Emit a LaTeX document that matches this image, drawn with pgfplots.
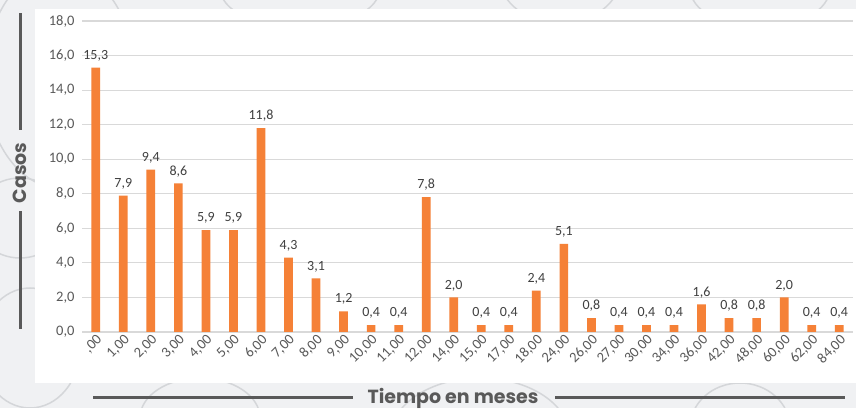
\documentclass[border=0pt]{standalone}
\usepackage{fontspec}
\setmainfont{Carlito}
\newfontfamily\poppins{Poppins}
\usepackage{pgfplots}
\pgfplotsset{compat=1.18}

\definecolor{barorange}{HTML}{F58137}
\definecolor{txtgray}{HTML}{595959}
\definecolor{gridgray}{HTML}{D9D9D9}
\definecolor{bggray}{HTML}{F0F1F3}
\definecolor{decogray}{HTML}{D4D6D9}

\begin{document}
\begin{tikzpicture}
% background with faint decorative curves
\fill[bggray] (0pt,0pt) rectangle (856pt,408pt);
\begin{scope}
  \clip (0pt,0pt) rectangle (856pt,408pt);
  \draw[decogray, line width=1.5pt] (60pt,330pt) ellipse (75pt and 110pt);
  \draw[decogray, line width=1.5pt] (20pt,190pt) ellipse (45pt and 40pt);
  \draw[decogray, line width=1.5pt] (300pt,420pt) ellipse (80pt and 40pt);
  \draw[decogray, line width=1.5pt] (560pt,430pt) ellipse (60pt and 45pt);
  \draw[decogray, line width=1.5pt] (760pt,420pt) ellipse (70pt and 40pt);
  \draw[decogray, line width=1.5pt] (200pt,-10pt) ellipse (60pt and 40pt);
  \draw[decogray, line width=1.5pt] (480pt,-30pt) ellipse (90pt and 60pt);
  \draw[decogray, line width=1.5pt] (740pt,-20pt) ellipse (50pt and 45pt);
  \draw[decogray, line width=1.5pt] (30pt,60pt) ellipse (50pt and 60pt);
\end{scope}
% white chart panel
\fill[white] (35pt,25pt) rectangle (856pt,399pt);

\begin{axis}[
  at={(82pt,76pt)}, anchor=south west,
  scale only axis, width=771pt, height=311pt,
  xmin=-0.5, xmax=27.5, ymin=0, ymax=18,
  ybar, bar width=8.7pt,
  axis line style={draw=none},
  major tick length=0pt,
  ymajorgrids, grid style={gridgray, line width=1.2pt},
  ytick={0,2,...,18},
  xtick={0,...,27},
  xticklabels={{,00},{1,00},{2,00},{3,00},{4,00},{5,00},{6,00},{7,00},{8,00},{9,00},{10,00},{11,00},{12,00},{14,00},{15,00},{17,00},{18,00},{24,00},{26,00},{27,00},{30,00},{34,00},{36,00},{42,00},{48,00},{60,00},{62,00},{84,00}},
  tick label style={font=\fontsize{14.5}{16}\selectfont, text=txtgray},
  x tick label style={rotate=45, anchor=north east, inner sep=1pt},
  y tick label style={xshift=-4pt},
  /pgf/number format/fixed,
  /pgf/number format/fixed zerofill,
  /pgf/number format/precision=1,
  /pgf/number format/use comma,
  /pgf/number format/assume math mode=true,
  nodes near coords,
  nodes near coords style={font=\fontsize{14}{16}\selectfont, text=black!75, yshift=3pt},
]
\addplot[fill=barorange, draw=none] coordinates {
  (0,15.3) (1,7.9) (2,9.4) (3,8.6) (4,5.9) (5,5.9) (6,11.8) (7,4.3)
  (8,3.1) (9,1.2) (10,0.4) (11,0.4) (12,7.8) (13,2.0) (14,0.4) (15,0.4)
  (16,2.4) (17,5.1) (18,0.8) (19,0.4) (20,0.4) (21,0.4) (22,1.6) (23,0.8)
  (24,0.8) (25,2.0) (26,0.4) (27,0.4)
};
\end{axis}

% axis titles with rules
\node[rotate=90, text=txtgray, font=\poppins\bfseries\fontsize{19}{21}\selectfont] at (20pt,235pt) {Casos};
\draw[txtgray, line width=3pt] (20.5pt,278pt) -- (20.5pt,395pt);
\draw[txtgray, line width=3pt] (20.5pt,79pt) -- (20.5pt,197pt);
\node[text=txtgray, font=\poppins\bfseries\fontsize{19}{21}\selectfont] at (453pt,10pt) {Tiempo en meses};
\draw[txtgray, line width=3pt] (93pt,10pt) -- (353pt,10pt);
\draw[txtgray, line width=3pt] (555pt,10pt) -- (845pt,10pt);
\end{tikzpicture}
\end{document}
